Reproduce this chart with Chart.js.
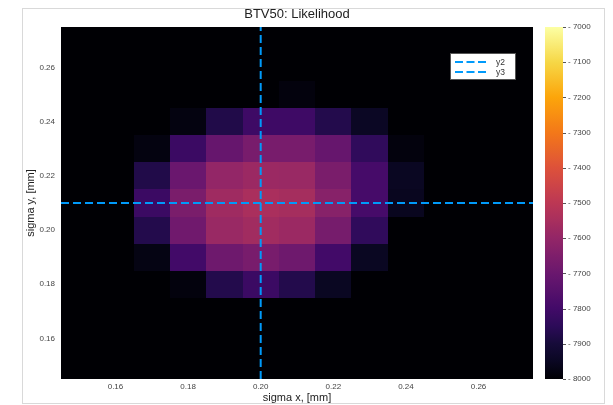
<!DOCTYPE html>
<html>
<head>
<meta charset="utf-8">
<title>BTV50: Likelihood</title>
<script src="https://cdn.jsdelivr.net/npm/chart.js@4/dist/chart.umd.min.js"></script>
<style>
  html, body { margin: 0; padding: 0; background: #fff; }
  #wrap { width: 613px; height: 405px; }
</style>
</head>
<body>
<div id="wrap"><canvas id="c" width="613" height="405"></canvas></div>
<script>
// Grid of beam sizes (cell centres, mm)
const sigmaX = [0.15, 0.16, 0.17, 0.18, 0.19, 0.20, 0.21, 0.22, 0.23, 0.24, 0.25, 0.26, 0.27];
const sigmaY = [0.15, 0.16, 0.17, 0.18, 0.19, 0.20, 0.21, 0.22, 0.23, 0.24, 0.25, 0.26, 0.27];

// Log-likelihood per cell, one row per sigmaY (bottom to top), columns follow sigmaX
const logL = [
  [-8000, -8000, -8000, -8000, -8000, -8000, -8000, -8000, -8000, -8000, -8000, -8000, -8000], // 0.15
  [-8000, -8000, -8000, -8000, -8000, -8000, -8000, -8000, -8000, -8000, -8000, -8000, -8000], // 0.16
  [-8000, -8000, -8000, -8000, -8000, -8000, -8000, -8000, -8000, -8000, -8000, -8000, -8000], // 0.17
  [-8000, -8000, -8000, -7985, -7870, -7815, -7870, -7950, -8000, -8000, -8000, -8000, -8000], // 0.18
  [-8000, -8000, -7975, -7800, -7690, -7665, -7690, -7800, -7950, -8000, -8000, -8000, -8000], // 0.19
  [-8000, -8000, -7870, -7685, -7585, -7565, -7580, -7670, -7840, -8000, -8000, -8000, -8000], // 0.20
  [-8000, -8000, -7815, -7660, -7570, -7545, -7555, -7630, -7790, -7955, -8000, -8000, -8000], // 0.21
  [-8000, -8000, -7875, -7700, -7600, -7580, -7585, -7660, -7790, -7950, -8000, -8000, -8000], // 0.22
  [-8000, -8000, -7980, -7815, -7710, -7665, -7665, -7710, -7840, -7985, -8000, -8000, -8000], // 0.23
  [-8000, -8000, -8000, -7980, -7875, -7810, -7810, -7870, -7945, -8000, -8000, -8000, -8000], // 0.24
  [-8000, -8000, -8000, -8000, -8000, -8000, -7985, -8000, -8000, -8000, -8000, -8000, -8000], // 0.25
  [-8000, -8000, -8000, -8000, -8000, -8000, -8000, -8000, -8000, -8000, -8000, -8000, -8000], // 0.26
  [-8000, -8000, -8000, -8000, -8000, -8000, -8000, -8000, -8000, -8000, -8000, -8000, -8000]  // 0.27
];

// Reference lines: true sigma x and sigma y
const vlineX = [0.20];
const hlineY = [0.21];
const seriesLabels = ['y2', 'y3'];

// Axis ranges and tick values
const axisRange = [0.145, 0.275];
const axisTicks = [0.16, 0.18, 0.20, 0.22, 0.24, 0.26];
const colorRange = [-8000, -7000];
const colorTicks = [-8000, -7900, -7800, -7700, -7600, -7500, -7400, -7300, -7200, -7100, -7000];

const FONT = "'Liberation Sans', Helvetica, Arial, sans-serif";
const LINE_BLUE = '#009AFA';

// Inferno colour map
const INFERNO = [
  [0.00, [0, 0, 4]], [0.05, [10, 7, 34]], [0.10, [22, 11, 57]], [0.15, [44, 11, 88]],
  [0.20, [66, 10, 104]], [0.30, [106, 23, 110]], [0.40, [147, 38, 103]],
  [0.50, [188, 55, 84]], [0.60, [221, 81, 58]], [0.70, [243, 120, 25]],
  [0.80, [252, 165, 10]], [0.90, [246, 215, 70]], [1.00, [252, 255, 164]]
];
function inferno(t) {
  t = Math.max(0, Math.min(1, t));
  for (let i = 1; i < INFERNO.length; i++) {
    const [t1, c1] = INFERNO[i];
    const [t0, c0] = INFERNO[i - 1];
    if (t <= t1) {
      const f = (t - t0) / (t1 - t0);
      const c = c0.map((v, k) => Math.round(v + (c1[k] - v) * f));
      return `rgb(${c[0]},${c[1]},${c[2]})`;
    }
  }
  return 'rgb(252,255,164)';
}
const toUnit = v => (v - colorRange[0]) / (colorRange[1] - colorRange[0]);

// Page background and outer frame
const framePlugin = {
  id: 'frame',
  beforeDraw(chart) {
    const ctx = chart.ctx;
    ctx.save();
    ctx.fillStyle = '#ffffff';
    ctx.fillRect(0, 0, chart.width, chart.height);
    ctx.strokeStyle = '#d9d9d9';
    ctx.lineWidth = 1;
    ctx.strokeRect(22.5, 8.5, 582, 395);
    ctx.restore();
  }
};

// Heat-map cells, placed through the x / y scales
const heatmapPlugin = {
  id: 'heatmap',
  beforeDatasetsDraw(chart) {
    const { ctx, scales: { x, y } } = chart;
    const hx = (sigmaX[1] - sigmaX[0]) / 2;
    const hy = (sigmaY[1] - sigmaY[0]) / 2;
    ctx.save();
    sigmaY.forEach((sy, r) => {
      sigmaX.forEach((sx, c) => {
        const x0 = Math.round(x.getPixelForValue(sx - hx));
        const x1 = Math.round(x.getPixelForValue(sx + hx));
        const y0 = Math.round(y.getPixelForValue(sy + hy));
        const y1 = Math.round(y.getPixelForValue(sy - hy));
        ctx.fillStyle = inferno(toUnit(logL[r][c]));
        ctx.fillRect(x0, y0, x1 - x0, y1 - y0);
      });
    });
    ctx.restore();
  }
};

// Colour bar drawn along the cbar scale
const colorbarPlugin = {
  id: 'colorbar',
  afterDraw(chart) {
    const { ctx } = chart;
    const s = chart.scales.cbar;
    const top = s.getPixelForValue(colorRange[1]);
    const bot = s.getPixelForValue(colorRange[0]);
    const left = s.left + 12, right = s.left + 30;
    const g = ctx.createLinearGradient(0, bot, 0, top);
    for (let i = 0; i <= 40; i++) g.addColorStop(i / 40, inferno(i / 40));
    ctx.save();
    ctx.fillStyle = g;
    ctx.fillRect(left, top, right - left, bot - top);
    ctx.strokeStyle = '#555';
    ctx.lineWidth = 1;
    colorTicks.forEach(v => {
      const py = Math.round(s.getPixelForValue(v)) + 0.5;
      ctx.beginPath();
      ctx.moveTo(right, py);
      ctx.lineTo(right + 3, py);
      ctx.stroke();
    });
    ctx.restore();
  }
};

// Boxed legend in the upper right of the plot
const legendBoxPlugin = {
  id: 'legendBox',
  afterDatasetsDraw(chart) {
    const { ctx, chartArea } = chart;
    const bx = chartArea.right - 83, by = chartArea.top + 26, bw = 66, bh = 27;
    ctx.save();
    ctx.fillStyle = '#ffffff';
    ctx.fillRect(bx, by, bw, bh);
    ctx.strokeStyle = '#555';
    ctx.lineWidth = 1;
    ctx.strokeRect(bx + 0.5, by + 0.5, bw - 1, bh - 1);
    chart.data.datasets.forEach((ds, k) => {
      const ly = by + 9 + k * 10;
      ctx.strokeStyle = ds.borderColor;
      ctx.lineWidth = 2;
      ctx.setLineDash([8, 3.5]);
      ctx.beginPath();
      ctx.moveTo(bx + 5, ly);
      ctx.lineTo(bx + 37, ly);
      ctx.stroke();
      ctx.setLineDash([]);
      ctx.fillStyle = '#333';
      ctx.font = `8.5px ${FONT}`;
      ctx.textBaseline = 'middle';
      ctx.textAlign = 'left';
      ctx.fillText(ds.label, bx + 46, ly + 0.5);
    });
    ctx.restore();
  }
};

const ticksFrom = arr => scale => { scale.ticks = arr.map(v => ({ value: v })); };
const noEdgePadding = scale => {
  scale.paddingTop = 0; scale.paddingBottom = 0;
  scale.paddingLeft = 0; scale.paddingRight = 0;
};

new Chart(document.getElementById('c'), {
  type: 'scatter',
  data: {
    datasets: [
      {
        label: seriesLabels[0],
        data: [{ x: vlineX[0], y: axisRange[0] }, { x: vlineX[0], y: axisRange[1] }],
        showLine: true, borderColor: LINE_BLUE, borderWidth: 2, borderDash: [8, 4],
        pointRadius: 0, pointHoverRadius: 0
      },
      {
        label: seriesLabels[1],
        data: [{ x: axisRange[0], y: hlineY[0] }, { x: axisRange[1], y: hlineY[0] }],
        showLine: true, borderColor: LINE_BLUE, borderWidth: 2, borderDash: [8, 4],
        pointRadius: 0, pointHoverRadius: 0
      }
    ]
  },
  options: {
    responsive: false,
    animation: false,
    events: [],
    layout: { autoPadding: false, padding: { left: 0, right: 19, top: 0, bottom: 0 } },
    plugins: {
      legend: { display: false },
      tooltip: { enabled: false },
      title: {
        display: true,
        text: 'BTV50: Likelihood',
        color: '#222',
        font: { family: FONT, size: 13, weight: 'normal', lineHeight: 1.2 },
        padding: { top: 7, bottom: 4.4 }
      }
    },
    scales: {
      x: {
        type: 'linear', position: 'bottom',
        min: axisRange[0], max: axisRange[1],
        afterBuildTicks: ticksFrom(axisTicks),
        afterFit(scale) { scale.height = 26; noEdgePadding(scale); },
        grid: { display: false, drawTicks: false },
        border: { display: false },
        ticks: {
          padding: 3, color: '#444', maxRotation: 0,
          font: { family: FONT, size: 8 },
          callback: v => v.toFixed(2)
        },
        title: {
          display: true, text: 'sigma x, [mm]', color: '#222',
          font: { family: FONT, size: 11, lineHeight: 1.2 },
          padding: { top: 0, bottom: 0 }
        }
      },
      y: {
        type: 'linear', position: 'left',
        min: axisRange[0], max: axisRange[1],
        afterBuildTicks: ticksFrom(axisTicks),
        afterFit(scale) { scale.width = 61; noEdgePadding(scale); },
        grid: { display: false, drawTicks: false },
        border: { display: false },
        ticks: {
          padding: 6, color: '#444',
          font: { family: FONT, size: 8 },
          callback: v => v.toFixed(2)
        },
        title: {
          display: true, text: 'sigma y, [mm]', color: '#222',
          font: { family: FONT, size: 11, lineHeight: 1.2 },
          padding: { top: 24, bottom: 0 }
        }
      },
      cbar: {
        axis: 'y', type: 'linear', position: 'right',
        min: colorRange[0], max: colorRange[1],
        afterBuildTicks: ticksFrom(colorTicks),
        afterFit(scale) { scale.width = 61; noEdgePadding(scale); },
        grid: { display: false, drawTicks: false },
        border: { display: false },
        ticks: {
          padding: 35, color: '#444',
          font: { family: FONT, size: 8 },
          callback: v => '- ' + Math.abs(v)
        }
      }
    }
  },
  plugins: [framePlugin, heatmapPlugin, colorbarPlugin, legendBoxPlugin]
});
</script>
</body>
</html>
